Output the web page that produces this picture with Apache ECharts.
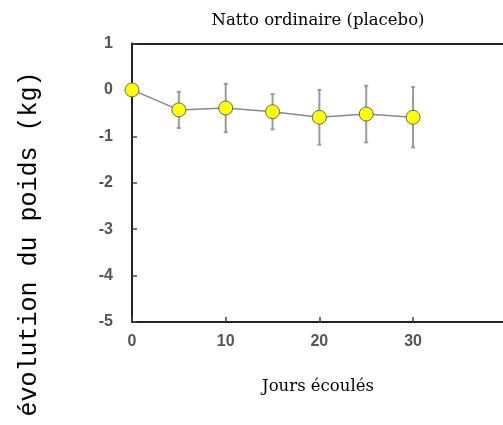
<!DOCTYPE html>
<html><head><meta charset="utf-8">
<script src="https://cdn.jsdelivr.net/npm/echarts@6/dist/echarts.min.js"></script>
<style>html,body{margin:0;padding:0;background:#fff}#c{width:503px;height:425px}</style>
</head><body><div id="c"></div>
<script>
var days = [0, 5, 10, 15, 20, 25, 30];
var means = [0, -0.43, -0.39, -0.47, -0.59, -0.52, -0.59];
var errs = [0, 0.39, 0.52, 0.38, 0.59, 0.61, 0.65];
var titleText = 'Natto ordinaire (placebo)';
var xName = 'Jours écoulés';
var yName = 'évolution du poids (kg)';

var pts = days.map(function (d, i) { return [d, means[i]]; });
var bars = days.map(function (d, i) { return [d, means[i] - errs[i], means[i] + errs[i]]; });

var chart = echarts.init(document.getElementById('c'), null, {renderer: 'canvas'});
chart.setOption({
  backgroundColor: '#fff',
  animation: false,
  graphic: [
    {type: 'text', x: 318, y: 21, style: {text: titleText, font: '16.5px "DejaVu Serif"', fill: '#000', textAlign: 'center', textVerticalAlign: 'middle'}},
    {type: 'text', x: 318, y: 387, style: {text: xName, font: '16.5px "DejaVu Serif"', fill: '#000', textAlign: 'center', textVerticalAlign: 'middle'}},
    {type: 'text', x: 29, y: 244, rotation: Math.PI / 2,
      style: {text: yName, font: '25px "Liberation Mono"', fill: '#000', textAlign: 'center', textVerticalAlign: 'middle'}}
  ],
  grid: {left: 132, right: 0, top: 43.5, bottom: 103},
  xAxis: [{
    type: 'value', min: 0, max: 39.6, interval: 10,
    axisLine: {show: true, onZero: false, lineStyle: {color: '#222', width: 2}},
    axisTick: {show: true, inside: true, length: 5, lineStyle: {color: '#444', width: 1.5}},
    axisLabel: {margin: 12, color: '#555', fontFamily: 'Liberation Sans', fontSize: 16, fontWeight: 'bold', showMaxLabel: false},
    splitLine: {show: false}
  }, {
    type: 'value', position: 'top', min: 0, max: 39.6,
    axisLine: {show: true, onZero: false, lineStyle: {color: '#222', width: 2}},
    axisTick: {show: false}, axisLabel: {show: false}, splitLine: {show: false}
  }],
  yAxis: {
    type: 'value', min: -5, max: 1, interval: 1,
    axisLine: {show: true, onZero: false, lineStyle: {color: '#222', width: 2}},
    axisTick: {show: true, inside: true, length: 5, lineStyle: {color: '#444', width: 1.5}},
    axisLabel: {margin: 19, color: '#555', fontFamily: 'Liberation Sans', fontSize: 16, fontWeight: 'bold'},
    splitLine: {show: false}
  },
  series: [{
    type: 'custom', z: 1,
    data: bars,
    renderItem: function (params, api) {
      var x = api.value(0);
      var lo = api.coord([x, api.value(1)]);
      var hi = api.coord([x, api.value(2)]);
      var w = 2;
      var st = {stroke: '#9a9a9a', lineWidth: 2};
      return {type: 'group', children: [
        {type: 'line', shape: {x1: lo[0], y1: lo[1], x2: hi[0], y2: hi[1]}, style: st},
        {type: 'line', shape: {x1: lo[0] - w, y1: lo[1], x2: lo[0] + w, y2: lo[1]}, style: st},
        {type: 'line', shape: {x1: hi[0] - w, y1: hi[1], x2: hi[0] + w, y2: hi[1]}, style: st}
      ]};
    }
  }, {
    type: 'line', z: 3, data: pts,
    symbol: 'circle', symbolSize: 14,
    lineStyle: {color: '#888', width: 1.5},
    itemStyle: {color: '#ffff00', borderColor: '#666', borderWidth: 1}
  }]
});
</script></body></html>
